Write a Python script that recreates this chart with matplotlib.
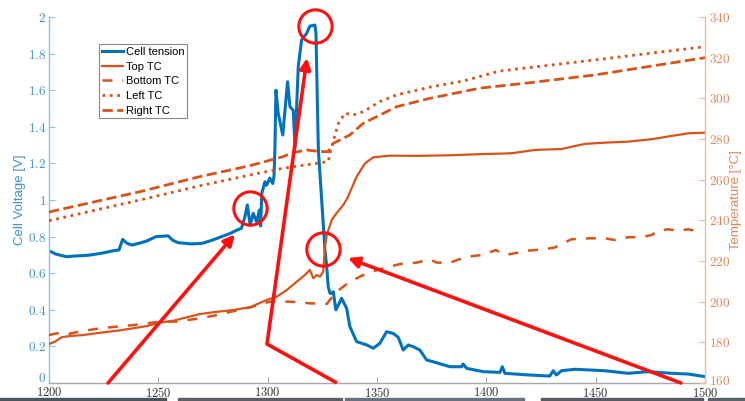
import matplotlib
matplotlib.use('Agg')
import matplotlib.pyplot as plt
from matplotlib.patches import Rectangle
from matplotlib.transforms import ScaledTranslation

plt.rcParams['mathtext.fontset'] = 'cm'
plt.rcParams['font.family'] = ['Liberation Sans', 'DejaVu Sans']

# ---------------- data ----------------
cell_t = [1200, 1203, 1208, 1212, 1218, 1224, 1229.5, 1232, 1233.7, 1235.7, 1238, 1241, 1244.7,
          1249, 1254.5, 1256.6, 1259, 1265, 1270, 1274, 1278.6, 1283, 1286, 1288, 1289.6, 1290.7,
          1292, 1293.4, 1295, 1296.2, 1296.8, 1297.3, 1298.8, 1299.5, 1301, 1302.3, 1302.9, 1303.3,
          1303.8, 1304.8, 1306.9, 1309.1, 1310.2, 1311.7, 1312.5, 1314, 1315.5, 1317.8, 1319.3,
          1321.6, 1322.1, 1322.7, 1323.2, 1324.7, 1326.2, 1327, 1327.7, 1328.5, 1329.3, 1330,
          1331.2, 1332.7, 1333.8, 1336.1, 1337.6, 1340.7, 1345.3, 1348.3, 1351.3, 1354.4, 1357.4,
          1359.7, 1362, 1364.3, 1366.6, 1369.6, 1372.7, 1375.7, 1383.4, 1388.7, 1389.4, 1391,
          1398.6, 1406.2, 1407.3, 1408.5, 1419.2, 1429, 1430.6, 1432, 1434.4, 1440.5, 1454.2,
          1464.9, 1474, 1484.7, 1492.3, 1500]
cell_v = [0.723, 0.705, 0.690, 0.694, 0.698, 0.709, 0.723, 0.727, 0.785, 0.763, 0.754, 0.763, 0.776,
          0.800, 0.804, 0.780, 0.767, 0.760, 0.763, 0.778, 0.798, 0.818, 0.836, 0.845, 0.909, 0.973,
          0.863, 0.927, 0.880, 0.945, 0.858, 1.037, 1.100, 1.080, 1.120, 1.090, 1.130, 1.270,
          1.600, 1.475, 1.355, 1.646, 1.510, 1.490, 1.290, 1.730, 1.874, 1.910, 1.950,
          1.956, 1.910, 1.546, 1.270, 1.000, 0.727, 0.635, 0.526, 0.490, 0.490, 0.499,
          0.400, 0.435, 0.463, 0.408, 0.308, 0.226, 0.208, 0.190, 0.217, 0.280, 0.271,
          0.250, 0.180, 0.208, 0.198, 0.180, 0.126, 0.116, 0.089, 0.089, 0.104, 0.080,
          0.062, 0.058, 0.089, 0.053, 0.044, 0.038, 0.067, 0.044, 0.067, 0.075, 0.067,
          0.053, 0.062, 0.053, 0.049, 0.035]

top_t = [1200, 1202.7, 1205.8, 1209.6, 1215.7, 1223.3, 1231, 1238.5, 1244.7, 1250.8, 1256.8, 1263,
         1269, 1276.7, 1284.3, 1292, 1299.5, 1304.1, 1308.7, 1313.3, 1317, 1319.3, 1320.9, 1322.4,
         1323.9, 1325.4, 1326.2, 1327, 1329.3, 1331.5, 1334.6, 1336.5, 1340.7, 1344.5, 1348.3,
         1356, 1368.1, 1383.4, 1398.6, 1406, 1411.6, 1422.2, 1434.4, 1439, 1445.1, 1454.2,
         1464.9, 1475.6, 1484.7, 1492.3, 1500]
top_T = [179.2, 180.3, 182.5, 183.1, 183.6, 184.7, 185.7, 186.9, 188.0, 189.7, 190.6, 192.3,
         193.9, 195.0, 195.9, 197.3, 200.8, 202.4, 205.7, 209.8, 213.1, 215.6, 211.5, 213.1,
         212.3, 214.7, 227.0, 232.8, 240.2, 243.5, 247.6, 251.0, 261.5, 268.0, 271.0,
         271.8, 271.7, 272.0, 272.6, 272.8, 273.0, 274.6, 275.1, 276.2, 277.6, 278.2,
         278.7, 279.9, 281.5, 282.8, 283.1]

bottom_t = [1200, 1204, 1207, 1209, 1215, 1223.3, 1238.5, 1250.8, 1258.4, 1269, 1276.7, 1292,
            1301, 1310.2, 1319.3, 1327, 1331.5, 1337.6, 1345.3, 1352.9, 1360.5, 1368.1, 1374.2,
            1377.3, 1383.4, 1391, 1398.6, 1404.3, 1408.5, 1413, 1419.2, 1426.8, 1431.4, 1434.4,
            1439, 1448.1, 1454.2, 1458.8, 1464.9, 1471, 1475.6, 1478.6, 1483.2, 1487.7, 1492.3,
            1495.4, 1497]
bottom_T = [183.6, 184.5, 185.0, 184.2, 185.5, 186.9, 188.5, 190.2, 190.2, 191.8, 193.4, 197.2,
            200.0, 200.0, 199.2, 198.9, 204.9, 209.8, 214.0, 216.4, 218.5, 219.2, 220.8,
            219.2, 219.2, 222.1, 223.0, 225.4, 223.0, 223.8, 225.1, 225.8, 226.7, 228.4,
            230.7, 231.2, 231.2, 230.3, 231.7, 231.7, 232.8, 234.9, 235.6, 234.9, 235.6,
            234.9, 233.5]

left_t = [1200, 1241.6, 1269, 1292, 1307, 1322.4, 1327.7, 1329.3, 1332.3, 1335.3, 1339.1, 1343.7,
          1351.3, 1359, 1374.2, 1389.4, 1406, 1449.7, 1500]
left_T = [239.8, 250.0, 257.0, 262.3, 265.6, 268.0, 268.9, 276.2, 287.5, 292.7, 291.8, 293.4,
          298.4, 301.7, 305.5, 308.5, 313.4, 318.9, 325.4]

right_t = [1200, 1241.6, 1269, 1292, 1307, 1311.7, 1317.8, 1323.9, 1327.7, 1330, 1333, 1337.6,
           1343.7, 1359, 1374.2, 1397, 1420, 1449.7, 1500]
right_T = [244.1, 254.1, 261.5, 266.9, 271.3, 273.3, 274.6, 273.8, 273.8, 277.9, 279.5, 282.0,
           287.7, 295.9, 300.0, 305.0, 307.7, 311.5, 320.0]

x_ticks = [1200, 1250, 1300, 1350, 1400, 1450, 1500]
v_ticks = [0, 0.2, 0.4, 0.6, 0.8, 1, 1.2, 1.4, 1.6, 1.8, 2]
v_labels = ['0', '0.2', '0.4', '0.6', '0.8', '1', '1.2', '1.4', '1.6', '1.8', '2']
T_ticks = [160, 180, 200, 220, 240, 260, 280, 300, 320, 340]

legend_labels = ['Cell tension', 'Top TC', 'Bottom TC', 'Left TC', 'Right TC']

# red annotation geometry (in time / voltage coordinates)
circle_t = [1291.9, 1321.6, 1325.3]
circle_v = [0.956, 1.951, 0.732]
arrow1 = ((1227.0, 0.0), (1285.0, 0.812))
arrow2_path = [(1331.7, 0.0), (1299.7, 0.213)]
arrow2 = ((1299.7, 0.213), (1318.0, 1.776))
arrow3 = ((1489.0, 0.0), (1336.7, 0.683))

# ---------------- style ----------------
BLUE = '#0072BD'
ORANGE = '#D95319'
RED = '#ff1010'
LBLUE_TXT = '#3f8fd0'
LBLUE_AX = '#8fc0e6'
LOR_TXT = '#e2845a'
LOR_AX = '#f1b99c'

fig = plt.figure(figsize=(7.45, 4.01), dpi=100)
ax = fig.add_axes([49 / 745, 18 / 401, 656 / 745, 366 / 401])
ax2 = ax.twinx()

l_cell, = ax.plot(cell_t, cell_v, color=BLUE, lw=2.2)
l_top, = ax2.plot(top_t, top_T, color=ORANGE, lw=1.6)
l_bot, = ax2.plot(bottom_t, bottom_T, color=ORANGE, lw=1.8, dashes=(4, 4))
l_left, = ax2.plot(left_t, left_T, color=ORANGE, lw=2.0, linestyle=':')
l_right, = ax2.plot(right_t, right_T, color=ORANGE, lw=2.0, dashes=(3.7, 1.6))

ax.set_xlim(1200, 1500)
ax.set_ylim(0, 2)
ax2.set_ylim(160, 340)

ax.set_xticks(x_ticks, labels=[f'${t}$' for t in x_ticks])
ax.set_yticks(v_ticks, labels=[f'${s}$' for s in v_labels])
ax2.set_yticks(T_ticks, labels=[f'${t}$' for t in T_ticks])

for a in (ax, ax2):
    a.spines['top'].set_visible(False)
ax.spines['right'].set_visible(False)
ax2.spines['left'].set_visible(False)
ax2.spines['bottom'].set_visible(False)
ax.spines['left'].set_color(LBLUE_AX)
ax.spines['bottom'].set_color('#a8a8a8')
ax2.spines['right'].set_color(LOR_AX)
for sp in (ax.spines['left'], ax.spines['bottom'], ax2.spines['right']):
    sp.set_linewidth(1.0)

ax.tick_params(axis='y', direction='in', length=4, color=LBLUE_AX, labelcolor=LBLUE_TXT,
               labelsize=9.5, pad=2)
ax.tick_params(axis='x', direction='in', length=4, color='#a8a8a8', labelcolor='#333333',
               labelsize=9, pad=2)
ax2.tick_params(axis='y', direction='in', length=4, color=LOR_AX, labelcolor=LOR_TXT,
                labelsize=9.5, pad=3)

# nudge the lowest y tick labels up a little so they don't collide with the x labels
lab0 = ax.yaxis.get_major_ticks()[0].label1
lab0.set_transform(lab0.get_transform() + ScaledTranslation(0, 4 / 72, fig.dpi_scale_trans))
lab1 = ax2.yaxis.get_major_ticks()[0].label2
lab1.set_transform(lab1.get_transform() + ScaledTranslation(0, 2.5 / 72, fig.dpi_scale_trans))

ax.set_ylabel('Cell Voltage [V]', color=LBLUE_TXT, fontsize=9.5, labelpad=1)
ax2.set_ylabel('Temperature [°C]', color=LOR_TXT, fontsize=9.5, labelpad=0, rotation=90)

leg = ax2.legend([l_cell, l_top, l_bot, l_left, l_right], legend_labels,
                 loc='upper left', bbox_to_anchor=(0.076, 0.926), borderaxespad=0,
                 fontsize=8, fancybox=False, edgecolor='#8a8a8a', framealpha=1,
                 handlelength=1.9, handletextpad=0.25, labelspacing=0.42, borderpad=0.25)
leg.get_frame().set_linewidth(0.8)

# red annotations (drawn on top)
tr = ax.transData
ax2.plot(circle_t, circle_v, 'o', ms=24, mfc='none', mec=RED, mew=2.2,
         transform=tr, clip_on=False, zorder=10)
arrow_kw = dict(arrowstyle='-|>', color=RED, lw=2.6, mutation_scale=16,
                shrinkA=0, shrinkB=0)
for (tail, tip) in (arrow1, arrow2, arrow3):
    ax2.annotate('', xy=tip, xytext=tail, xycoords=tr, textcoords=tr,
                 arrowprops=arrow_kw, annotation_clip=False, zorder=10)
ax2.plot([p[0] for p in arrow2_path], [p[1] for p in arrow2_path], color=RED, lw=2.6,
         transform=tr, clip_on=False, zorder=10, solid_capstyle='butt')

# cropped screenshot strip at the bottom
for x0, x1, c in [(0, 166, '#4e545c'), (178, 342, '#5b6067'), (345, 524, '#6a7280'),
                  (541, 703, '#565b62'), (708, 745, '#5d636b')]:
    fig.patches.append(Rectangle((x0 / 745, 0), (x1 - x0) / 745, 3 / 401,
                                 transform=fig.transFigure, color=c, zorder=0))

fig.savefig('out.png', dpi=100)
